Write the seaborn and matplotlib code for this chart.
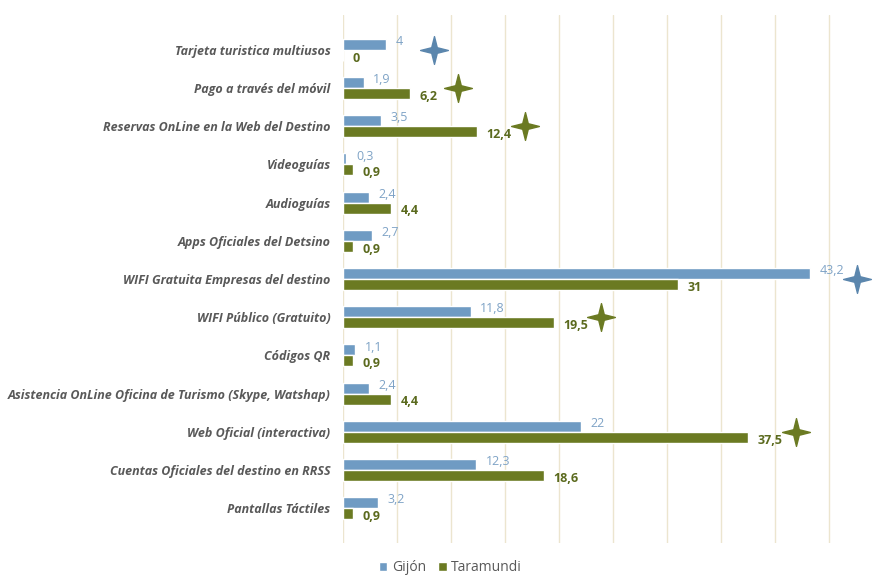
import matplotlib
matplotlib.use("Agg")
import matplotlib.pyplot as plt
from matplotlib.path import Path
import seaborn as sns
import pandas as pd

categories = [
    "Tarjeta turistica multiusos",
    "Pago a través del móvil",
    "Reservas OnLine en la Web del Destino",
    "Videoguías",
    "Audioguías",
    "Apps Oficiales del Detsino",
    "WIFI Gratuita Empresas del destino",
    "WIFI Público (Gratuito)",
    "Códigos QR",
    "Asistencia OnLine Oficina de Turismo (Skype, Watshap)",
    "Web Oficial (interactiva)",
    "Cuentas Oficiales del destino en RRSS",
    "Pantallas Táctiles",
]
gijon = [4, 1.9, 3.5, 0.3, 2.4, 2.7, 43.2, 11.8, 1.1, 2.4, 22, 12.3, 3.2]
taramundi = [0, 6.2, 12.4, 0.9, 4.4, 0.9, 31, 19.5, 0.9, 4.4, 37.5, 18.6, 0.9]
series = ["Gijón", "Taramundi"]

# highlighted (category, series) pairs marked with a star
stars = [
    ("Tarjeta turistica multiusos", "Gijón"),
    ("Pago a través del móvil", "Taramundi"),
    ("Reservas OnLine en la Web del Destino", "Taramundi"),
    ("WIFI Gratuita Empresas del destino", "Gijón"),
    ("WIFI Público (Gratuito)", "Taramundi"),
    ("Web Oficial (interactiva)", "Taramundi"),
]

bar_colors = {"Gijón": "#6f9bc3", "Taramundi": "#6b7a22"}
label_colors = {"Gijón": "#7fa3c6", "Taramundi": "#5b6a1e"}
star_colors = {"Gijón": "#5b86ad", "Taramundi": "#6b7a22"}

df = pd.DataFrame({
    "Categoria": categories * 2,
    "Valor": gijon + taramundi,
    "Destino": [series[0]] * len(categories) + [series[1]] * len(categories),
})


def fmt(v):
    if float(v).is_integer():
        return str(int(v))
    return f"{v:.1f}".replace(".", ",")


sns.set_style("white")
plt.rcParams["font.family"] = ["Open Sans", "DejaVu Sans"]

fig = plt.figure(figsize=(8.78, 5.81), dpi=100)
ax = fig.add_axes([0.3907, 0.0649, 0.6093, 0.9098])

sns.barplot(data=df, y="Categoria", x="Valor", hue="Destino", orient="h",
            palette=bar_colors, width=0.58, saturation=1, ax=ax, zorder=2)

# value labels: blue nudged up, green nudged down so they don't collide
for cont, name in zip(ax.containers, series):
    vals = gijon if name == "Gijón" else taramundi
    texts = ax.bar_label(cont, labels=[fmt(v) for v in vals], padding=7,
                         color=label_colors[name], fontsize=9,
                         fontweight="normal" if name == "Gijón" else "bold")
    dy = 2 if name == "Gijón" else -2
    for t in texts:
        t.xyann = (t.xyann[0], dy)

# star markers
r = 0.2
star = Path([(0, 1), (r, r), (1, 0), (r, -r), (0, -1), (-r, -r), (-1, 0), (-r, r), (0, 1)],
            [Path.MOVETO] + [Path.LINETO] * 7 + [Path.CLOSEPOLY])
for cat, name in stars:
    i = categories.index(cat)
    v = (gijon if name == "Gijón" else taramundi)[i]
    ax.plot(v + 4.4, i, marker=star, markersize=20, color=star_colors[name],
            clip_on=False, zorder=4)

ax.set_xlim(0, 49.5)
ax.set_xticks(range(0, 50, 5))
ax.set_xticklabels([])
ax.grid(axis="x", color="#ece5cf", linewidth=1)
ax.grid(axis="y", visible=False)
ax.set_axisbelow(True)
for s in ax.spines.values():
    s.set_visible(False)
ax.set_xlabel("")
ax.set_ylabel("")
ax.tick_params(axis="y", length=0, pad=9)
ax.tick_params(axis="x", length=0)
for t in ax.get_yticklabels():
    t.set_fontstyle("italic")
    t.set_fontweight("bold")
    t.set_color("#595959")
    t.set_fontsize(9)

handles, labels = ax.get_legend_handles_labels()
ax.legend_.remove()
fig.legend(handles, labels, loc="lower center", bbox_to_anchor=(0.513, -0.012),
           ncol=2, frameon=False, handlelength=0.6, handleheight=0.6,
           handletextpad=0.3, columnspacing=0.9, fontsize=10,
           labelcolor="#595959")

fig.savefig("out.png", dpi=100)
